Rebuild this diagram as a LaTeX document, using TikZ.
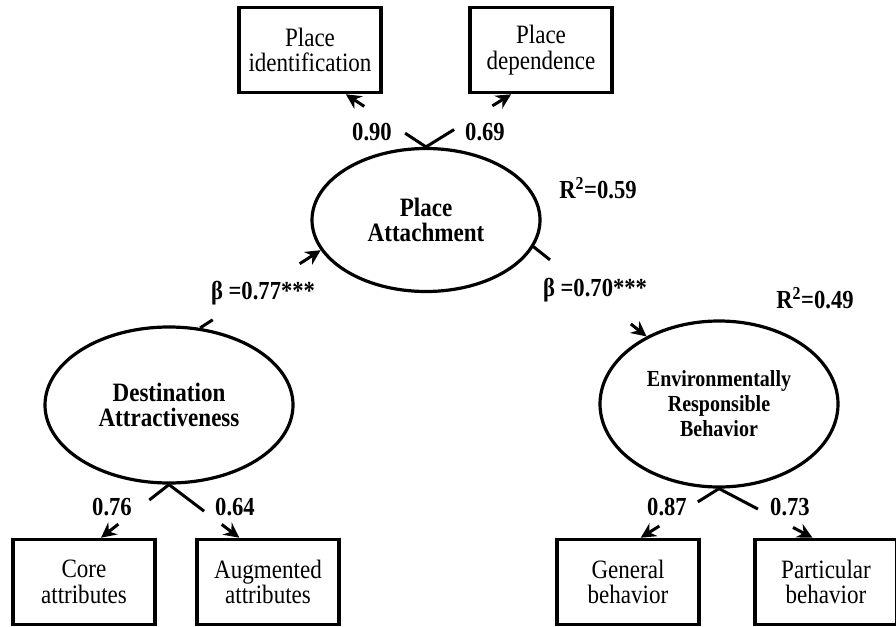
\documentclass[tikz,border=0pt]{standalone}
\usepackage{fontspec}
\setmainfont{Liberation Serif}[FakeStretch=0.87]
\usetikzlibrary{calc}
\usetikzlibrary{shapes.geometric}
\usetikzlibrary{arrows.meta}

\begin{document}
\begin{tikzpicture}[x=1pt, y=-1pt, >={Stealth[length=15pt,width=15pt,inset=5pt]}, line width=3pt]
	\tikzset{indic/.style={draw, line width=3.6pt, minimum width=142pt, minimum height=85pt,
		align=center, inner sep=0pt, font=\fontsize{26.5}{25.5}\selectfont},
		latent/.style={draw, ellipse, line width=3.2pt, align=center, inner sep=0pt,
		font=\fontsize{26.5}{25}\selectfont\bfseries},
		coef/.style={font=\fontsize{26}{26}\selectfont\bfseries, inner sep=1pt}}
	\useasboundingbox (0,0) rectangle (896,626);
	% latent constructs
	\node[latent, minimum width=228pt, minimum height=143pt] (pa) at (426,220) {Place\\Attachment};
	\node[latent, minimum width=248pt, minimum height=156pt] (da) at (169,405) {Destination\\Attractiveness};
	\node[latent, minimum width=238pt, minimum height=166pt, font=\fontsize{23}{25}\selectfont\bfseries]
		(erb) at (719,404) {Environmentally\\Responsible\\Behavior};
	% indicators
	\node[indic] (pid) at (310,50) {Place\\identification};
	\node[indic] (pdep) at (541,50) {Place\\dependence};
	\node[indic] (core) at (84,582) {Core\\attributes};
	\node[indic] (aug) at (268,582) {Augmented\\attributes};
	\node[indic] (gen) at (628,582) {General\\behavior};
	\node[indic] (part) at (826,582) {Particular\\behavior};
	% loadings (only the ends of each path are shown)
	\draw (pa.north) -- ($(pa.north)!25pt!(pid.-51)$);
	\draw[->] ($(pid.-51)!22pt!(pa.north)$) -- (pid.-51);
	\draw (pa.north) -- ($(pa.north)!33pt!(pdep.-124)$);
	\draw[->] ($(pdep.-124)!22pt!(pa.north)$) -- (pdep.-124);
	\draw (da.south) -- ($(da.south)!25pt!(core.69)$);
	\draw[->] ($(core.69)!22pt!(da.south)$) -- (core.69);
	\draw (da.south) -- ($(da.south)!44pt!(aug.123)$);
	\draw[->] ($(aug.123)!22pt!(da.south)$) -- (aug.123);
	\draw (erb.south) -- ($(erb.south)!25pt!(gen.74)$);
	\draw[->] ($(gen.74)!22pt!(erb.south)$) -- (gen.74);
	\draw (erb.south) -- ($(erb.south)!44pt!(part.107)$);
	\draw[->] ($(part.107)!22pt!(erb.south)$) -- (part.107);
	% structural paths
	\draw (da.68) -- ($(da.68)!15pt!(pa.196)$);
	\draw[->] ($(pa.196)!25pt!(da.68)$) -- (pa.196);
	\draw (pa.-14) -- ($(pa.-14)!21pt!(erb.137)$);
	\draw[->] ($(erb.137)!20pt!(pa.-14)$) -- (erb.137);
	% coefficients
	\node[coef] (l1) at (372,132) {0.90};
	\node[coef] (l2) at (485,132) {0.69};
	\node[coef] (l3) at (112,507) {0.76};
	\node[coef] (l4) at (235,507) {0.64};
	\node[coef] (l5) at (667,507) {0.87};
	\node[coef] (l6) at (790,507) {0.73};
	\node[coef] (b1) at (263,293) {β =0.77***};
	\node[coef] (b2) at (595,290) {β =0.70***};
	\node[coef] (r1) at (598,188) {R\textsuperscript{2}=0.59};
	\node[coef] (r2) at (815,298) {R\textsuperscript{2}=0.49};
\end{tikzpicture}
\end{document}
